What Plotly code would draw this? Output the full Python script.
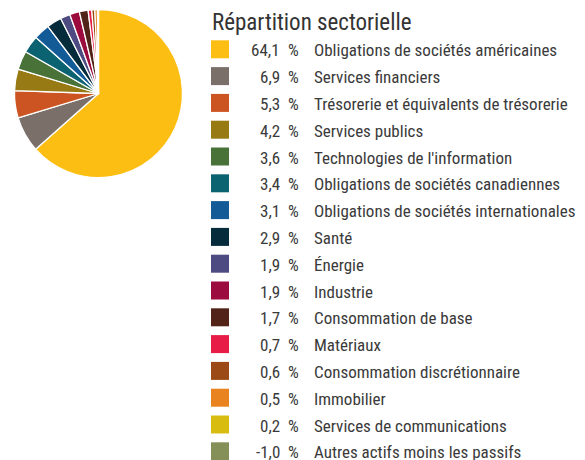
import plotly.graph_objects as go

W, H = 585, 460

title = "Répartition sectorielle"
sectors = [
    "Obligations de sociétés américaines",
    "Services financiers",
    "Trésorerie et équivalents de trésorerie",
    "Services publics",
    "Technologies de l'information",
    "Obligations de sociétés canadiennes",
    "Obligations de sociétés internationales",
    "Santé",
    "Énergie",
    "Industrie",
    "Consommation de base",
    "Matériaux",
    "Consommation discrétionnaire",
    "Immobilier",
    "Services de communications",
    "Autres actifs moins les passifs",
]
weights = [64.1, 6.9, 5.3, 4.2, 3.6, 3.4, 3.1, 2.9, 1.9, 1.9, 1.7, 0.7, 0.6, 0.5, 0.2, -1.0]
colors = [
    "#FDBE14", "#7A6F69", "#CC5322", "#977A13", "#487237", "#0B6371",
    "#125B97", "#062B3B", "#4E4A82", "#9B0B3E", "#512318", "#E81D47",
    "#9B4A15", "#E8831F", "#D8BC0F", "#858F58",
]

FONT = "Roboto Condensed, Roboto, sans-serif"
TEXT_COLOR = "#3a3a3a"


def px(x):
    return x / W


def py(y):
    return 1 - y / H


# Pie of the positive weights only; the negative line appears in the list alone
pie_labels = [s for s, v in zip(sectors, weights) if v > 0]
pie_values = [v for v in weights if v > 0]
pie_colors = [c for c, v in zip(colors, weights) if v > 0]

fig = go.Figure(
    go.Pie(
        labels=pie_labels,
        values=pie_values,
        sort=False,
        direction="clockwise",
        rotation=0,
        marker=dict(colors=pie_colors, line=dict(color="white", width=1.3)),
        textinfo="none",
        hovertemplate="%{label}: %{value:.1f} %<extra></extra>",
        showlegend=False,
        domain=dict(x=[px(14.5), px(182.5)], y=[py(177.5), py(9.5)]),
    )
)

# Heading of the list
fig.add_annotation(
    x=px(210), y=py(22.5), xref="paper", yref="paper",
    xanchor="left", yanchor="middle", showarrow=False,
    text=title, font=dict(family=FONT, size=23, color="#333333"),
)

# Sector list: swatch, value, percent sign, name
row0, pitch = 49.3, 26.8
for i, (name, val, col) in enumerate(zip(sectors, weights, colors)):
    cy = row0 + i * pitch
    fig.add_shape(
        type="rect", xref="paper", yref="paper",
        x0=px(211), x1=px(229), y0=py(cy + 9), y1=py(cy - 9),
        fillcolor=col, line=dict(width=0),
    )
    common = dict(xref="paper", yref="paper", yanchor="middle", showarrow=False,
                  borderpad=0, font=dict(family=FONT, size=17, color=TEXT_COLOR))
    fig.add_annotation(x=px(281), y=py(cy + 1), xanchor="right",
                       text=f"{val:.1f}".replace(".", ","), **common)
    fig.add_annotation(x=px(287), y=py(cy + 1), xanchor="left", text="%", **common)
    fig.add_annotation(x=px(313), y=py(cy + 1), xanchor="left", text=name, **common)

fig.update_layout(
    width=W, height=H,
    margin=dict(l=0, r=0, t=0, b=0),
    paper_bgcolor="white", plot_bgcolor="white",
)
fig.write_html("out.html", config={"displayModeBar": False})
